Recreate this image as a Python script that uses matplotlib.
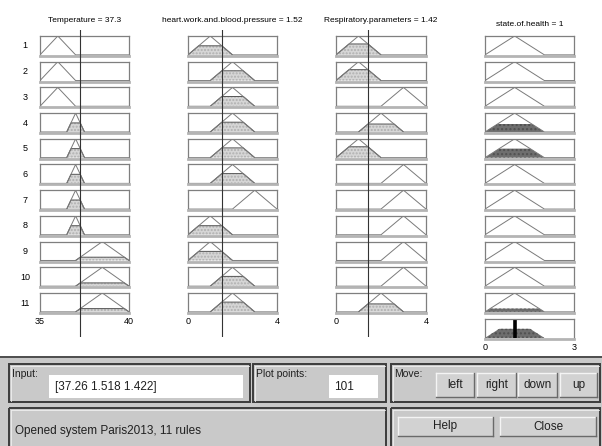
import matplotlib
matplotlib.use('Agg')
import matplotlib.pyplot as plt
import numpy as np
from matplotlib.patches import Rectangle

# ---------------- data ----------------
input_names = ['Temperature', 'heart.work.and.blood.pressure', 'Respiratory.parameters']
output_name = 'state.of.health'
input_values = [37.26, 1.518, 1.422]
input_titles = ['37.3', '1.52', '1.42']
input_ranges = [(35, 40), (0, 4), (0, 4)]
output_range = (0, 3)
output_title = '1'

temp_mfs = {'low': [35, 36, 37], 'normal': [36.5, 37, 37.5], 'high': [37, 38.5, 40]}
heart_mfs = {'low': [0, 1, 2], 'mid': [1, 2, 3], 'high': [2, 3, 4]}
resp_mfs = {'low': [0, 1, 2], 'mid': [1, 2, 3], 'high': [2, 3, 4]}
out_mfs = {'mid': [0, 1, 2]}

rule_temp = ['low', 'low', 'low', 'normal', 'normal', 'normal', 'normal', 'normal', 'high', 'high', 'high']
rule_heart = ['low', 'mid', 'mid', 'mid', 'mid', 'mid', 'high', 'low', 'low', 'mid', 'mid']
rule_resp = ['low', 'low', 'high', 'mid', 'low', 'high', 'high', 'high', 'high', 'high', 'mid']
rule_out = ['mid'] * 11

input_vector_text = '[37.26 1.518 1.422]'
plot_points = '101'
status_text = 'Opened system Paris2013, 11 rules'

# ---------------- helpers ----------------
W, H = 602, 446
fig = plt.figure(figsize=(W / 100, H / 100), dpi=100)
FONT = 'Liberation Sans'


def ax_px(x0, y0, x1, y1, **kw):
    return fig.add_axes([x0 / W, 1 - y1 / H, (x1 - x0) / W, (y1 - y0) / H], **kw)


def fx(x):
    return x / W


def fy(y):
    return 1 - y / H


def trimf(x, p):
    a, b, c = p
    left = (x - a) / (b - a)
    right = (c - x) / (c - b)
    return np.clip(np.minimum(left, right), 0, 1)


col_x = [(40, 129), (188, 277), (336, 426), (485, 574)]
row_top0 = 36
row_pitch = 25.7
row_h = 20
n_rules = len(rule_temp)

mf_sets = [temp_mfs, heart_mfs, resp_mfs]
rule_cols = [rule_temp, rule_heart, rule_resp]

# firing strengths (min / AND)
fire = []
for r in range(n_rules):
    mus = [float(trimf(np.array(input_values[i]), mf_sets[i][rule_cols[i][r]])) for i in range(3)]
    fire.append(min(mus))

LINE = '#7a7a7a'
BOX = '#7f7f7f'
FILL_IN = '#d6d6d6'
FILL_OUT = '#6e6e6e'


def style_box(ax, xr):
    ax.set_xlim(*xr)
    ax.set_ylim(-0.06, 1.0)
    ax.set_xticks([])
    ax.set_yticks([])
    for s in ['top', 'left', 'right']:
        ax.spines[s].set_color(BOX)
        ax.spines[s].set_linewidth(0.9)
    ax.spines['bottom'].set_color('#b4b4b4')
    ax.spines['bottom'].set_linewidth(2.0)
    ax.patch.set_facecolor('white')


# ---------------- rule rows ----------------
for r in range(n_rules):
    y0 = row_top0 + r * row_pitch
    y1 = y0 + row_h
    fig.text(fx(25), fy((y0 + y1) / 2), str(r + 1), fontsize=6.5, family=FONT,
             ha='center', va='center')
    for i in range(3):
        xr = input_ranges[i]
        ax = ax_px(col_x[i][0], y0, col_x[i][1], y1)
        style_box(ax, xr)
        xs = np.linspace(xr[0], xr[1], 401)
        p = mf_sets[i][rule_cols[i][r]]
        ys = trimf(xs, p)
        mu = float(trimf(np.array(input_values[i]), p))
        if mu > 0:
            clipped = np.minimum(ys, mu)
            ax.fill_between(xs, 0, clipped, where=ys > 0, facecolor=FILL_IN,
                            edgecolor='#b0b0b0', hatch='.....', linewidth=0)
            ax.plot(xs[ys > 0], clipped[ys > 0], color='#555555', lw=0.7)
        ax.plot(xs, ys, color=LINE, lw=0.7)
    # output
    ax = ax_px(col_x[3][0], y0, col_x[3][1], y1)
    style_box(ax, output_range)
    xs = np.linspace(output_range[0], output_range[1], 401)
    ys = trimf(xs, out_mfs[rule_out[r]])
    if fire[r] > 0:
        clipped = np.minimum(ys, fire[r])
        ax.fill_between(xs, 0, clipped, where=ys > 0, facecolor=FILL_OUT,
                        edgecolor='#505050', hatch='....', linewidth=0)
    ax.plot(xs, ys, color=LINE, lw=0.7)

# ---------------- aggregate row ----------------
agg_y0, agg_y1 = 319, 339
ax = ax_px(col_x[3][0], agg_y0, col_x[3][1], agg_y1)
style_box(ax, output_range)
xs = np.linspace(output_range[0], output_range[1], 401)
agg = np.zeros_like(xs)
for r in range(n_rules):
    agg = np.maximum(agg, np.minimum(trimf(xs, out_mfs[rule_out[r]]), fire[r]))
ax.fill_between(xs, 0, agg, where=agg > 0, facecolor=FILL_OUT, edgecolor='#505050',
                hatch='....', linewidth=0)
centroid = float(np.sum(xs * agg) / np.sum(agg))
ax.plot([centroid, centroid], [0, 0.95], color='black', lw=2.6, solid_capstyle='butt')

# ---------------- input value lines ----------------
for i in range(3):
    axl = ax_px(col_x[i][0], 30, col_x[i][1], 337)
    axl.set_xlim(*input_ranges[i])
    axl.set_ylim(0, 1)
    axl.axis('off')
    axl.patch.set_alpha(0)
    axl.axvline(input_values[i], color='#333333', lw=0.8)

# ---------------- titles and range labels ----------------
for i in range(3):
    cx = (col_x[i][0] + col_x[i][1]) / 2
    fig.text(fx(cx), fy(20), f'{input_names[i]} = {input_titles[i]}', fontsize=6.0,
             family=FONT, ha='center', va='center')
    fig.text(fx(col_x[i][0]), fy(322), f'{input_ranges[i][0]:g}', fontsize=6.5,
             family=FONT, ha='center', va='center')
    fig.text(fx(col_x[i][1]), fy(322), f'{input_ranges[i][1]:g}', fontsize=6.5,
             family=FONT, ha='center', va='center')
cx = (col_x[3][0] + col_x[3][1]) / 2
fig.text(fx(cx), fy(25), f'{output_name} = {output_title}', fontsize=6.0,
         family=FONT, ha='center', va='center')
fig.text(fx(col_x[3][0]), fy(348), f'{output_range[0]:g}', fontsize=6.5,
         family=FONT, ha='center', va='center')
fig.text(fx(col_x[3][1]), fy(348), f'{output_range[1]:g}', fontsize=6.5,
         family=FONT, ha='center', va='center')

# ---------------- bottom GUI panel ----------------
gui = ax_px(0, 0, W, H, zorder=-1)
gui.set_xlim(0, W)
gui.set_ylim(H, 0)
gui.axis('off')
gui.patch.set_alpha(0)

gui.add_patch(Rectangle((0, 356), W, H - 356, facecolor='#c9c9c9', edgecolor='none'))
gui.plot([0, W], [356.5, 356.5], color='#3a3a3a', lw=1.2)

GFS = 8.5


def frame(x0, y0, x1, y1):
    gui.add_patch(Rectangle((x0, y0), x1 - x0, y1 - y0, facecolor='none',
                            edgecolor='#3c3c3c', lw=1.4))
    gui.plot([x0 + 1.5, x1 - 1.5], [y0 + 1.5, y0 + 1.5], color='#f0f0f0', lw=0.6)
    gui.plot([x0 + 1.5, x0 + 1.5], [y0 + 1.5, y1 - 1.5], color='#f0f0f0', lw=0.6)


def button(x0, y0, x1, y1, label):
    gui.add_patch(Rectangle((x0, y0), x1 - x0, y1 - y0, facecolor='#d2d2d2',
                            edgecolor='none'))
    gui.plot([x0, x1], [y0, y0], color='#f4f4f4', lw=1.0)
    gui.plot([x0, x0], [y0, y1], color='#f4f4f4', lw=1.0)
    gui.plot([x0, x1], [y1, y1], color='#6a6a6a', lw=1.0)
    gui.plot([x1, x1], [y0, y1], color='#6a6a6a', lw=1.0)
    gui.text((x0 + x1) / 2, (y0 + y1) / 2, label, fontsize=GFS, family=FONT,
             ha='center', va='center', color='#202020')


frame(9, 364, 250, 402)
frame(253, 364, 386, 402)
frame(391, 364, 600, 402)
frame(9, 408, 386, 448)
frame(391, 408, 600, 448)

gui.text(12, 374, 'Input:', fontsize=7.5, family=FONT, ha='left', va='center', color='#202020')
gui.add_patch(Rectangle((49, 375), 194, 23, facecolor='white', edgecolor='none'))
gui.text(55, 387, input_vector_text, fontsize=GFS, family=FONT, ha='left', va='center',
         color='#202020')

gui.text(256, 374, 'Plot points:', fontsize=7.5, family=FONT, ha='left', va='center',
         color='#202020')
gui.add_patch(Rectangle((329, 375), 49, 23, facecolor='white', edgecolor='none'))
gui.text(334, 387, plot_points, fontsize=GFS, family=FONT, ha='left', va='center',
         color='#202020')

gui.text(394, 374, 'Move:', fontsize=7.5, family=FONT, ha='left', va='center',
         color='#202020')
button(436, 373, 474, 397, 'left')
button(477, 373, 516, 397, 'right')
button(518, 373, 557, 397, 'down')
button(560, 373, 597, 397, 'up')

gui.text(15, 431, status_text, fontsize=GFS, family=FONT, ha='left', va='center',
         color='#202020')
button(398, 417, 493, 436, 'Help')
button(500, 417, 596, 436, 'Close')

fig.savefig('out.png', dpi=100)
